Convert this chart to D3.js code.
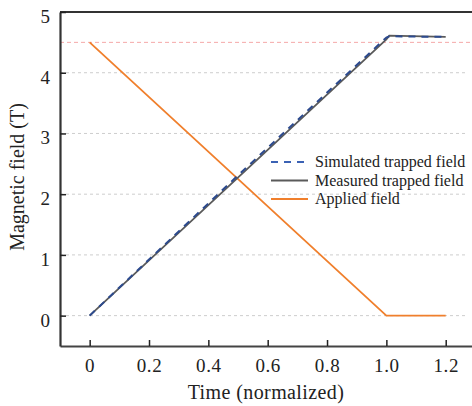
<!DOCTYPE html>
<html>
<head>
<meta charset="utf-8">
<script src="https://cdn.jsdelivr.net/npm/d3@7"></script>
<style>
  html, body { margin: 0; padding: 0; background: #fff; }
  svg { display: block; }
  text { font-family: "Liberation Serif", "DejaVu Serif", serif; fill: #222; }
</style>
</head>
<body>
<svg id="chart" width="472" height="406"></svg>
<script>
// Normalized time and field values (tesla)
const timeMeasured = [0, 1.0, 1.01, 1.2];
const fieldMeasured = [0, 4.55, 4.61, 4.59];
const timeSimulated = [0, 0.5, 1.0, 1.01, 1.2];
const fieldSimulated = [0, 2.31, 4.58, 4.60, 4.59];
const timeApplied = [0, 1.0, 1.2];
const fieldApplied = [4.5, 0, 0];
const targetField = 4.5;
const xTicks = [0, 0.2, 0.4, 0.6, 0.8, 1.0, 1.2];
const xTickLabels = ["0", "0.2", "0.4", "0.6", "0.8", "1.0", "1.2"];
const yTicks = [0, 1, 2, 3, 4, 5];
const legendLabels = ["Simulated trapped field", "Measured trapped field", "Applied field"];

const svg = d3.select("#chart");
const m = { left: 60, top: 12, bottom: 346 };
const serif = "'Liberation Serif', 'DejaVu Serif', serif";

const x = d3.scaleLinear().domain([-0.1, 1.3]).range([m.left, m.left + 1.4 * 296.7]);
const y = d3.scaleLinear().domain([-0.5, 5]).range([m.bottom, m.top]);

// Horizontal grid lines
svg.append("g")
  .selectAll("line")
  .data(yTicks.filter(d => d < 5))
  .join("line")
  .attr("x1", x(-0.1)).attr("x2", 466)
  .attr("y1", d => y(d)).attr("y2", d => y(d))
  .attr("stroke", "#cdcdcd").attr("stroke-width", 1)
  .attr("stroke-dasharray", "3,3");

// Target field reference line
svg.append("line")
  .attr("x1", x(-0.1)).attr("x2", 472)
  .attr("y1", y(targetField)).attr("y2", y(targetField))
  .attr("stroke", "#f5a8a8").attr("stroke-width", 1)
  .attr("stroke-dasharray", "4,3");

// Top frame line
svg.append("line")
  .attr("x1", m.left).attr("x2", 472)
  .attr("y1", y(5)).attr("y2", y(5))
  .attr("stroke", "#333").attr("stroke-width", 2);

// Axes
const xAxis = d3.axisBottom(x).tickValues(xTicks)
  .tickFormat((d, i) => xTickLabels[i]).tickSizeInner(-6).tickSizeOuter(0).tickPadding(12.5);
const gx = svg.append("g").attr("transform", `translate(0,${m.bottom})`).call(xAxis);
gx.select(".domain").attr("stroke", "#444").attr("stroke-width", 2.2);
gx.selectAll(".tick line").attr("stroke", "#222").attr("stroke-width", 1.5);
gx.selectAll("text").attr("font-size", 19).attr("fill", "#222")
  .style("font-family", serif).style("letter-spacing", "0.6px");

const yAxis = d3.axisLeft(y).tickValues(yTicks).tickFormat(d3.format("d"))
  .tickSizeInner(-6).tickSizeOuter(0).tickPadding(10);
const gy = svg.append("g").attr("transform", `translate(${m.left},0)`).call(yAxis);
gy.select(".domain").attr("stroke", "#333").attr("stroke-width", 2.2);
gy.selectAll(".tick line").attr("stroke", "#222").attr("stroke-width", 1.5);
gy.selectAll("text").attr("font-size", 19).attr("fill", "#222").attr("dy", "0.55em")
  .style("font-family", serif);

// Axis titles
svg.append("text")
  .attr("x", 266).attr("y", 398.5)
  .attr("text-anchor", "middle").attr("font-size", 20)
  .style("letter-spacing", "0.4px")
  .text("Time (normalized)");
svg.append("text")
  .attr("transform", "translate(24,177) rotate(-90)")
  .attr("text-anchor", "middle").attr("font-size", 20)
  .text("Magnetic field (T)");

const line = d3.line().x(d => x(d[0])).y(d => y(d[1]));

// Applied field
svg.append("path")
  .datum(d3.zip(timeApplied, fieldApplied))
  .attr("d", line).attr("fill", "none")
  .attr("stroke", "#f07f2c").attr("stroke-width", 1.8);

// Measured trapped field
svg.append("path")
  .datum(d3.zip(timeMeasured, fieldMeasured))
  .attr("d", line).attr("fill", "none")
  .attr("stroke", "#5a5a5a").attr("stroke-width", 1.8);

// Simulated trapped field
svg.append("path")
  .datum(d3.zip(timeSimulated, fieldSimulated))
  .attr("d", line).attr("fill", "none")
  .attr("stroke", "#2c4a8e").attr("stroke-width", 2)
  .attr("stroke-dasharray", "7,6");

// Legend
const legend = svg.append("g").attr("transform", "translate(271,162)");
const legendStyles = [
  { stroke: "#3b62b4", dash: "7,6", w: 2 },
  { stroke: "#5a5a5a", dash: null, w: 1.8 },
  { stroke: "#f07f2c", dash: null, w: 2 }
];
legendLabels.forEach((label, i) => {
  const row = legend.append("g").attr("transform", `translate(0,${i * 18.5})`);
  row.append("line")
    .attr("x1", 0).attr("x2", 37).attr("y1", 0).attr("y2", 0)
    .attr("stroke", legendStyles[i].stroke).attr("stroke-width", legendStyles[i].w)
    .attr("stroke-dasharray", legendStyles[i].dash);
  row.append("text")
    .attr("x", 44).attr("y", 5).attr("font-size", 16)
    .text(label);
});
</script>
</body>
</html>
